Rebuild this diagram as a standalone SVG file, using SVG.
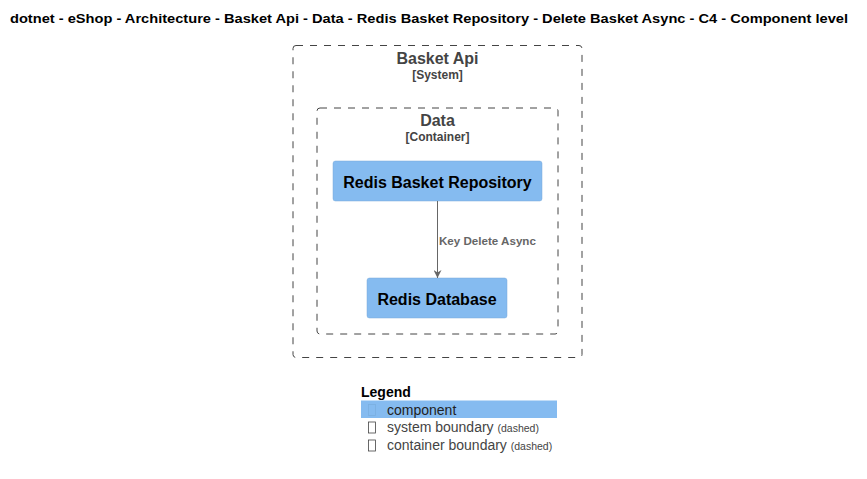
<svg xmlns="http://www.w3.org/2000/svg" width="867" height="479" viewBox="0 0 867 479">
<style>
text{font-family:"Liberation Sans",Arial,sans-serif}
.title{font-size:13px;font-weight:bold;fill:#000}
.bname{font-size:16px;font-weight:bold;fill:#444}
.btype{font-size:12px;font-weight:bold;fill:#444}
.boundary{fill:none;stroke:#444;stroke-width:1;stroke-dasharray:7,7}
.comp{fill:#85bbf0;stroke:#78a8d8;stroke-width:0.5}
.cname{font-size:16px;font-weight:bold;fill:#000}
.rel{stroke:#666;stroke-width:1;fill:none}
.rlabel{font-size:11.6px;font-weight:bold;fill:#666}
.lg{font-size:14px;fill:#444}
.lgs{font-size:10.5px;fill:#444}
.tofu{fill:none;stroke:#444;stroke-width:0.8}
</style>
<defs>
<marker id="arrow" viewBox="0 0 10 10" refX="10" refY="5" markerWidth="9" markerHeight="8" markerUnits="userSpaceOnUse" orient="auto">
<path d="M0,0 L10,5 L0,10 L3,5 Z" fill="#666"/>
</marker>
</defs>
<rect width="867" height="479" fill="#fff"/>
<text class="title" x="429" y="23" text-anchor="middle" textLength="838" lengthAdjust="spacingAndGlyphs">dotnet - eShop - Architecture - Basket Api - Data - Redis Basket Repository - Delete Basket Async - C4 - Component level</text>
<g id="system-basket-api">
<rect class="boundary" x="293" y="45.5" width="289" height="312" rx="3"/>
<text class="bname" x="437.5" y="64" text-anchor="middle">Basket Api</text>
<text class="btype" x="437.5" y="79" text-anchor="middle">[System]</text>
</g>
<g id="container-data">
<rect class="boundary" x="317" y="108" width="241" height="226" rx="3"/>
<text class="bname" x="437.5" y="126" text-anchor="middle">Data</text>
<text class="btype" x="437.5" y="141" text-anchor="middle">[Container]</text>
</g>
<g id="redis-basket-repository">
<rect class="comp" x="333" y="161" width="209" height="40" rx="2.5"/>
<text class="cname" x="437.5" y="188" text-anchor="middle">Redis Basket Repository</text>
</g>
<g id="redis-database">
<rect class="comp" x="367" y="278" width="140" height="40" rx="2.5"/>
<text class="cname" x="437" y="305" text-anchor="middle">Redis Database</text>
</g>
<g id="connectors">
<path class="rel" d="M437.5,201 L437.5,278" marker-end="url(#arrow)"/>
<text class="rlabel" x="439" y="245">Key Delete Async</text>
</g>
<g id="legend">
<text x="361" y="397" style="font-size:14px;font-weight:bold;fill:#000">Legend</text>
<rect x="361" y="400.5" width="196" height="17.5" fill="#85bbf0"/>
<rect class="tofu" x="368.5" y="404.5" width="7" height="11" style="stroke:#7aaee0"/>
<text class="lg" x="387" y="415" style="fill:#222">component</text>
<rect class="tofu" x="368.5" y="422" width="7" height="11"/>
<text class="lg" x="387" y="432">system boundary <tspan class="lgs">(dashed)</tspan></text>
<rect class="tofu" x="368.5" y="440" width="7" height="11"/>
<text class="lg" x="387" y="450">container boundary <tspan class="lgs">(dashed)</tspan></text>
</g>
</svg>
